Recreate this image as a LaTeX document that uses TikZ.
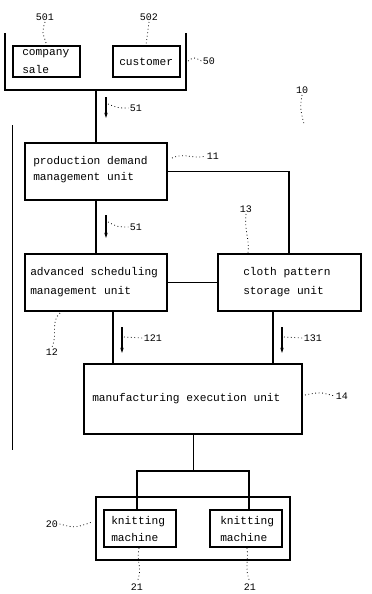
\documentclass[tikz,border=0pt]{standalone}
\usepackage{fontspec}
\setmonofont{Liberation Mono}
\usetikzlibrary{fit,arrows.meta}
\begin{document}
\begin{tikzpicture}[x=0.75pt,y=-0.75pt,
 box/.style={draw,line width=0.9pt,inner sep=0pt},
 txt/.style={anchor=west,inner sep=0pt,font=\ttfamily\fontsize{8.4}{10}\selectfont},
 ln/.style={line width=0.9pt},
 lbl/.style={font=\ttfamily\fontsize{7.5}{9}\selectfont,inner sep=1pt},
 lead/.style={dotted,line width=0.6pt},
 arr/.style={line width=0.8pt,-{Stealth[length=4pt,width=2.6pt]}}]
\useasboundingbox[fill=white] (0,0) rectangle (372,594);
% group 50
\coordinate (g50tl) at (5,33);
\coordinate (g50bl) at (5,90);
\coordinate (g50br) at (186,90);
\coordinate (g50tr) at (186,33);
\draw[ln] (g50tl) -- (g50bl) -- (g50br) -- (g50tr);
\node[box, fit={(13,46) (80,77)}] (cs) {};
\node[box, fit={(113,46) (180,77)}] (cu) {};
\node[txt] (cs1) at (22,54) {company};
\node[txt] (cs2) at (22,69) {sale};
\node[txt] (cu1) at (119,62) {customer};
% left bracket of 10
\coordinate (l10a) at (12,125);
\coordinate (l10b) at (12,450);
\draw[line width=0.7pt] (l10a) -- (l10b);
% units
\node[box, fit={(25,143) (167,200)}] (prod) {};
\node[txt] (prod1) at (33,162) {production demand};
\node[txt] (prod2) at (33,178) {management unit};
\node[box, fit={(25,254) (167,311)}] (adv) {};
\node[txt] (adv1) at (30,273) {advanced scheduling};
\node[txt] (adv2) at (30,292) {management unit};
\node[box, fit={(218,254) (361,311)}] (cloth) {};
\node[txt] (cl1) at (243,273) {cloth pattern};
\node[txt] (cl2) at (243,292) {storage unit};
\node[box, fit={(84,364) (302,434)}] (mes) {};
\node[txt] (mes1) at (92,399) {manufacturing execution unit};
\node[box, fit={(96,497) (290,560)}] (g20) {};
\node[box, fit={(104,510) (176,547)}] (k1) {};
\node[txt] (k1a) at (111,522) {knitting};
\node[txt] (k1b) at (111,537) {machine};
\node[box, fit={(210,510) (282,547)}] (k2) {};
\node[txt] (k2a) at (220,522) {knitting};
\node[txt] (k2b) at (220,537) {machine};
% connectors
\coordinate (g50b) at (96,90);
\draw[ln] (g50b) -- (prod.north -| g50b);
\coordinate (pa) at (96,200);
\draw[ln] (pa) -- (adv.north -| pa);
\coordinate (pc) at (289,171.5);
\draw[ln] (prod.east) -- (pc) -- (cloth.north -| pc);
\draw[ln] (adv.east) -- (cloth.west);
\coordinate (am) at (113,311);
\draw[ln] (am) -- (mes.north -| am);
\coordinate (cm) at (273,311);
\draw[ln] (cm) -- (mes.north -| cm);
\coordinate (mb) at (193,434);
\coordinate (mj) at (193,471);
\coordinate (j1) at (137,471);
\coordinate (j2) at (249,471);
\draw[line width=0.7pt] (mb) -- (mj);
\draw[ln] (k1.north -| j1) -- (j1) -- (j2) -- (k2.north -| j2);
% flow arrows
\coordinate (a1s) at (106,97); \coordinate (a1e) at (106,118);
\coordinate (a2s) at (106,215); \coordinate (a2e) at (106,238);
\coordinate (a3s) at (122,327); \coordinate (a3e) at (122,353);
\coordinate (a4s) at (282,327); \coordinate (a4e) at (282,353);
\draw[arr] (a1s) -- (a1e);
\draw[arr] (a2s) -- (a2e);
\draw[arr] (a3s) -- (a3e);
\draw[arr] (a4s) -- (a4e);
% labels
\node[lbl] (n501) at (45,17) {501};
\node[lbl] (n502) at (149,17) {502};
\node[lbl] (n50) at (209,61) {50};
\node[lbl] (n51a) at (136,108) {51};
\node[lbl] (n51b) at (136,227) {51};
\node[lbl] (n10) at (302,90) {10};
\node[lbl] (n11) at (213,156) {11};
\node[lbl] (n13) at (246,209) {13};
\node[lbl] (n12) at (52,352) {12};
\node[lbl] (n121) at (153,338) {121};
\node[lbl] (n131) at (313,338) {131};
\node[lbl] (n14) at (342,396) {14};
\node[lbl] (n20) at (52,524) {20};
\node[lbl] (n21a) at (137,587) {21};
\node[lbl] (n21b) at (250,587) {21};
% leaders
\draw[lead] (n501.south) .. controls (42,32) .. (cs.north -| 47,0);
\draw[lead] (n502.south) -- (cu.north -| 146,0);
\draw[lead] (188,61) .. controls (194,57) .. (n50.west);
\draw[lead] (108,104) .. controls (118,108) .. (n51a.west);
\draw[lead] (108,222) .. controls (118,227) .. (n51b.west);
\draw[lead] (n10.south) .. controls (300,108) .. (304,124);
\draw[lead] (172,158) .. controls (185,152) and (195,160) .. (n11.west);
\draw[lead] (n13.south) .. controls (244,230) and (250,240) .. (248,253);
\draw[lead] (60,313) .. controls (50,322) and (58,335) .. (n12.north);
\draw[lead] (124,337) -- (n121.west);
\draw[lead] (284,337) -- (n131.west);
\draw[lead] (305,395) .. controls (320,392) .. (n14.west);
\draw[lead] (n20.east) .. controls (75,528) .. (92,522);
\draw[lead] (139,548) .. controls (136,562) and (143,568) .. (n21a.north);
\draw[lead] (247,548) .. controls (249,560) and (244,568) .. (n21b.north);
\end{tikzpicture}
\end{document}
